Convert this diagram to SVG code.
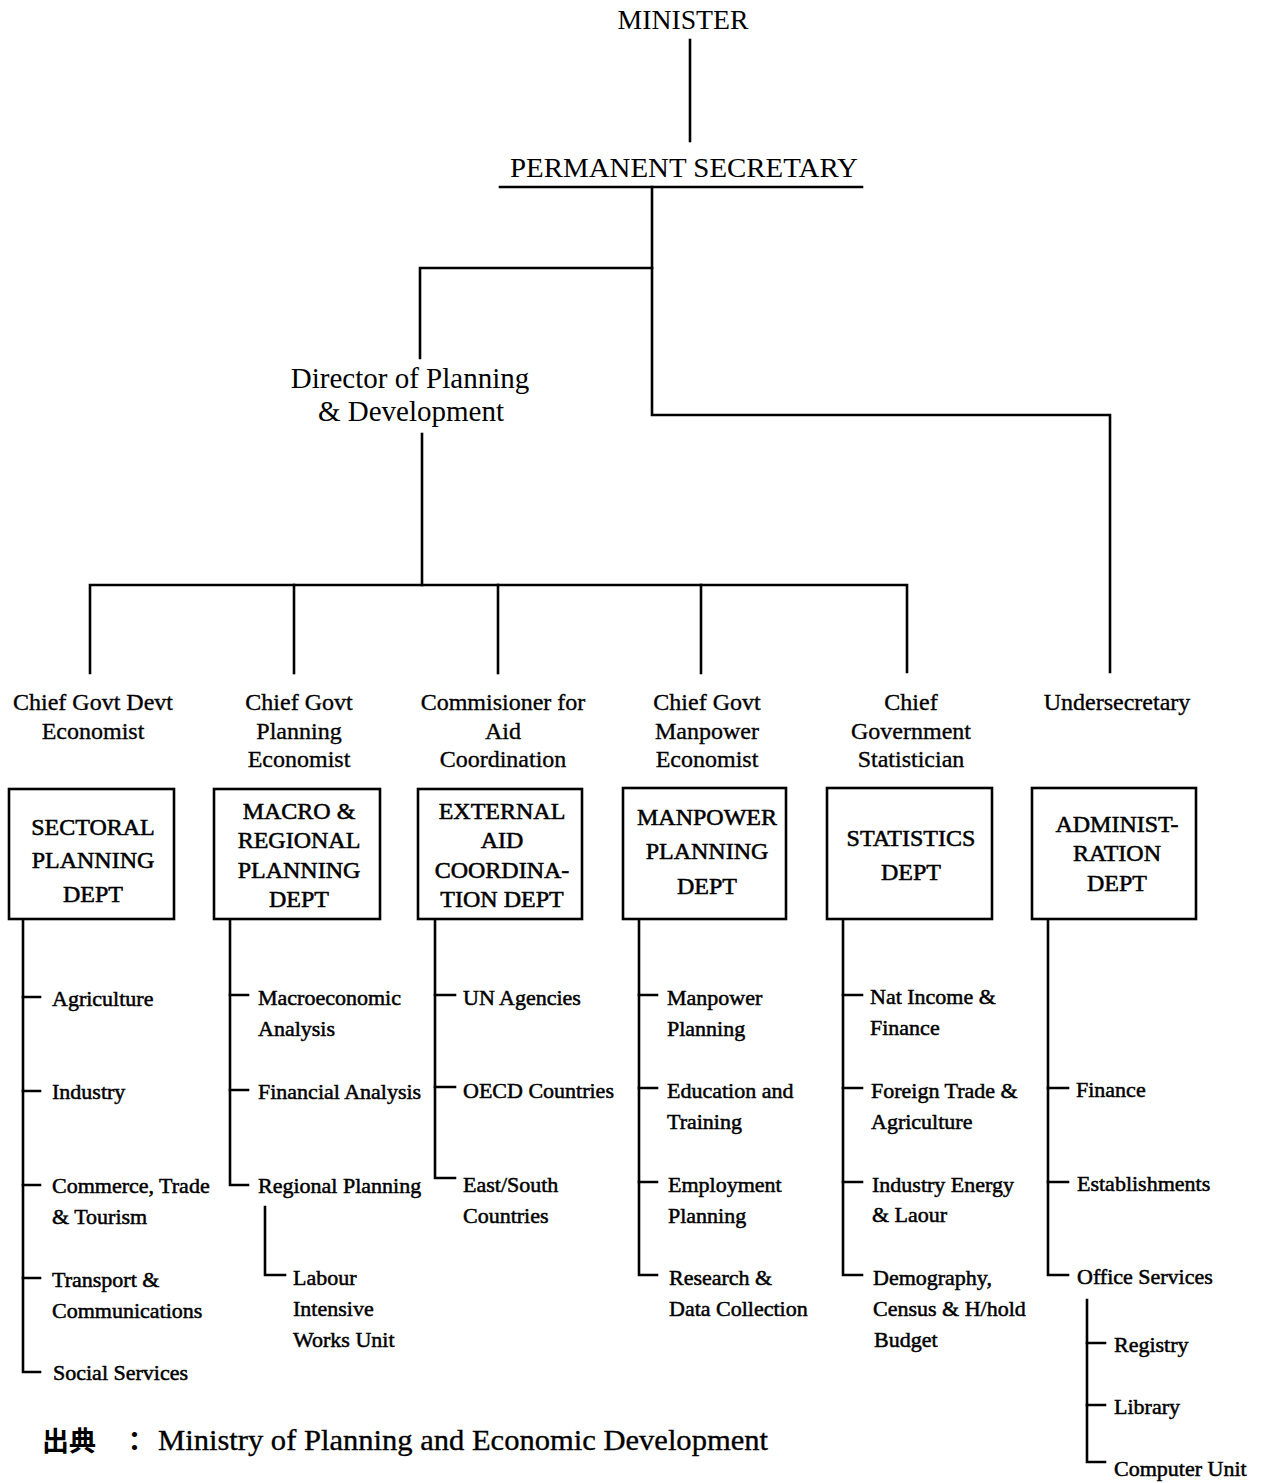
<svg xmlns="http://www.w3.org/2000/svg" width="1263" height="1483" viewBox="0 0 1263 1483">
  <style>
    .ln { fill: none; stroke: #000; stroke-width: 2.6; stroke-linecap: square; }
    .box { fill: #fff; stroke: #000; stroke-width: 2.6; }
    text { font-family: "Liberation Serif", "Times New Roman", serif; fill: #000; }
    .top { font-size: 27px; text-anchor: middle; }
    .dir { font-size: 29px; text-anchor: middle; }
    .ttl { font-size: 24px; text-anchor: middle; stroke: #000; stroke-width: 0.35; }
    .bx { font-size: 24px; text-anchor: middle; stroke: #000; stroke-width: 0.55; }
    .it { font-size: 22px; stroke: #000; stroke-width: 0.5; }
    .src { font-size: 30px; stroke: #000; stroke-width: 0.35; }
    .cjk { font-family: "Noto Sans CJK JP", "Noto Sans CJK SC", sans-serif; font-size: 27px; font-weight: bold; }
  </style>

  <!-- connectors -->
  <g id="connectors">
    <!-- minister to permanent secretary -->
    <path class="ln" d="M690 40 V141"/>
    <path class="ln" d="M500 187 H862"/>
    <!-- permanent secretary branches -->
    <path class="ln" d="M652 187 V415 H1110 V672"/>
    <path class="ln" d="M652 268 H420 V358"/>
    <!-- director to chiefs -->
    <path class="ln" d="M422 434 V585"/>
    <path class="ln" d="M90 673 V585 H907 V672"/>
    <path class="ln" d="M294 585 V673"/>
    <path class="ln" d="M498 585 V673"/>
    <path class="ln" d="M701 585 V673"/>

    <!-- sectoral planning -->
    <path class="ln" d="M23 920 V1372 H40"/>
    <path class="ln" d="M23 997 H40 M23 1091 H40 M23 1185 H40 M23 1278 H40"/>
    <!-- macro & regional -->
    <path class="ln" d="M230 920 V1185 H248"/>
    <path class="ln" d="M230 995 H248 M230 1090 H248"/>
    <path class="ln" d="M265 1207 V1275 H285"/>
    <!-- external aid -->
    <path class="ln" d="M435 920 V1178 H455"/>
    <path class="ln" d="M435 995 H455 M435 1087 H455"/>
    <!-- manpower -->
    <path class="ln" d="M639 920 V1275 H657"/>
    <path class="ln" d="M639 995 H657 M639 1088 H657 M639 1182 H657"/>
    <!-- statistics -->
    <path class="ln" d="M843 920 V1275 H862"/>
    <path class="ln" d="M843 995 H862 M843 1088 H862 M843 1182 H862"/>
    <!-- administration -->
    <path class="ln" d="M1048 920 V1275 H1068"/>
    <path class="ln" d="M1048 1088 H1068 M1048 1182 H1068"/>
    <path class="ln" d="M1087 1300 V1462 H1105"/>
    <path class="ln" d="M1087 1343 H1105 M1087 1405 H1105"/>
  </g>

  <!-- top of hierarchy -->
  <g id="minister">
    <text class="top" x="683" y="29" textLength="131" lengthAdjust="spacingAndGlyphs">MINISTER</text>
  </g>
  <g id="permanent-secretary">
    <text class="top" x="684" y="177" font-size="30" textLength="348" lengthAdjust="spacingAndGlyphs">PERMANENT SECRETARY</text>
  </g>
  <g id="director">
    <text class="dir" x="410" y="388">Director of Planning</text>
    <text class="dir" x="411" y="421">&amp; Development</text>
  </g>

  <!-- chief officers -->
  <g id="chief-devt-economist">
    <text class="ttl" x="93" y="710">Chief Govt Devt</text>
    <text class="ttl" x="93" y="739">Economist</text>
  </g>
  <g id="chief-planning-economist">
    <text class="ttl" x="299" y="710">Chief Govt</text>
    <text class="ttl" x="299" y="739">Planning</text>
    <text class="ttl" x="299" y="767">Economist</text>
  </g>
  <g id="aid-commissioner">
    <text class="ttl" x="503" y="710">Commisioner for</text>
    <text class="ttl" x="503" y="739">Aid</text>
    <text class="ttl" x="503" y="767">Coordination</text>
  </g>
  <g id="chief-manpower-economist">
    <text class="ttl" x="707" y="710">Chief Govt</text>
    <text class="ttl" x="707" y="739">Manpower</text>
    <text class="ttl" x="707" y="767">Economist</text>
  </g>
  <g id="chief-statistician">
    <text class="ttl" x="911" y="710">Chief</text>
    <text class="ttl" x="911" y="739">Government</text>
    <text class="ttl" x="911" y="767">Statistician</text>
  </g>
  <g id="undersecretary">
    <text class="ttl" x="1117" y="710">Undersecretary</text>
  </g>

  <!-- departments -->
  <g id="sectoral-planning-dept">
    <rect class="box" x="9" y="789" width="165" height="130"/>
    <text class="bx" x="93" y="835">SECTORAL</text>
    <text class="bx" x="93" y="868">PLANNING</text>
    <text class="bx" x="93" y="902">DEPT</text>
  </g>
  <g id="macro-regional-dept">
    <rect class="box" x="214" y="789" width="166" height="130"/>
    <text class="bx" x="299" y="819">MACRO &amp;</text>
    <text class="bx" x="299" y="848">REGIONAL</text>
    <text class="bx" x="299" y="878">PLANNING</text>
    <text class="bx" x="299" y="907">DEPT</text>
  </g>
  <g id="external-aid-dept">
    <rect class="box" x="418" y="789" width="164" height="130"/>
    <text class="bx" x="502" y="819">EXTERNAL</text>
    <text class="bx" x="502" y="848">AID</text>
    <text class="bx" x="502" y="878">COORDINA-</text>
    <text class="bx" x="502" y="907">TION DEPT</text>
  </g>
  <g id="manpower-dept">
    <rect class="box" x="623" y="788" width="163" height="131"/>
    <text class="bx" x="707" y="825">MANPOWER</text>
    <text class="bx" x="707" y="859">PLANNING</text>
    <text class="bx" x="707" y="894">DEPT</text>
  </g>
  <g id="statistics-dept">
    <rect class="box" x="827" y="788" width="165" height="131"/>
    <text class="bx" x="911" y="846">STATISTICS</text>
    <text class="bx" x="911" y="880">DEPT</text>
  </g>
  <g id="administration-dept">
    <rect class="box" x="1032" y="788" width="164" height="131"/>
    <text class="bx" x="1117" y="832">ADMINIST-</text>
    <text class="bx" x="1117" y="861">RATION</text>
    <text class="bx" x="1117" y="891">DEPT</text>
  </g>

  <!-- sections of sectoral planning -->
  <g id="sectoral-sections">
    <text class="it" x="52" y="1006">Agriculture</text>
    <text class="it" x="52" y="1099">Industry</text>
    <text class="it" x="52" y="1193">Commerce, Trade</text>
    <text class="it" x="52" y="1224">&amp; Tourism</text>
    <text class="it" x="52" y="1287">Transport &amp;</text>
    <text class="it" x="52" y="1318">Communications</text>
    <text class="it" x="53" y="1380">Social Services</text>
  </g>

  <!-- sections of macro & regional planning -->
  <g id="macro-sections">
    <text class="it" x="258" y="1005">Macroeconomic</text>
    <text class="it" x="258" y="1036">Analysis</text>
    <text class="it" x="258" y="1099">Financial Analysis</text>
    <text class="it" x="258" y="1193">Regional Planning</text>
    <text class="it" x="293" y="1285">Labour</text>
    <text class="it" x="293" y="1316">Intensive</text>
    <text class="it" x="293" y="1347">Works Unit</text>
  </g>

  <!-- sections of external aid coordination -->
  <g id="aid-sections">
    <text class="it" x="463" y="1005">UN Agencies</text>
    <text class="it" x="463" y="1098">OECD Countries</text>
    <text class="it" x="463" y="1192">East/South</text>
    <text class="it" x="463" y="1223">Countries</text>
  </g>

  <!-- sections of manpower planning -->
  <g id="manpower-sections">
    <text class="it" x="667" y="1005">Manpower</text>
    <text class="it" x="667" y="1036">Planning</text>
    <text class="it" x="667" y="1098">Education and</text>
    <text class="it" x="667" y="1129">Training</text>
    <text class="it" x="668" y="1192">Employment</text>
    <text class="it" x="668" y="1223">Planning</text>
    <text class="it" x="669" y="1285">Research &amp;</text>
    <text class="it" x="669" y="1316">Data Collection</text>
  </g>

  <!-- sections of statistics -->
  <g id="statistics-sections">
    <text class="it" x="870" y="1004">Nat Income &amp;</text>
    <text class="it" x="870" y="1035">Finance</text>
    <text class="it" x="871" y="1098">Foreign Trade &amp;</text>
    <text class="it" x="871" y="1129">Agriculture</text>
    <text class="it" x="872" y="1192">Industry Energy</text>
    <text class="it" x="872" y="1222">&amp; Laour</text>
    <text class="it" x="873" y="1285">Demography,</text>
    <text class="it" x="873" y="1316">Census &amp; H/hold</text>
    <text class="it" x="874" y="1347">Budget</text>
  </g>

  <!-- sections of administration -->
  <g id="administration-sections">
    <text class="it" x="1076" y="1097">Finance</text>
    <text class="it" x="1077" y="1191">Establishments</text>
    <text class="it" x="1077" y="1284">Office Services</text>
    <text class="it" x="1114" y="1352">Registry</text>
    <text class="it" x="1114" y="1414">Library</text>
    <text class="it" x="1114" y="1476">Computer Unit</text>
  </g>

  <!-- source line -->
  <g id="source">
    <text class="cjk" x="42" y="1451">出典</text>
    <text class="cjk" x="121" y="1451">：</text>
    <text class="src" x="158" y="1450" textLength="610" lengthAdjust="spacingAndGlyphs">Ministry of Planning and Economic Development</text>
  </g>
</svg>
